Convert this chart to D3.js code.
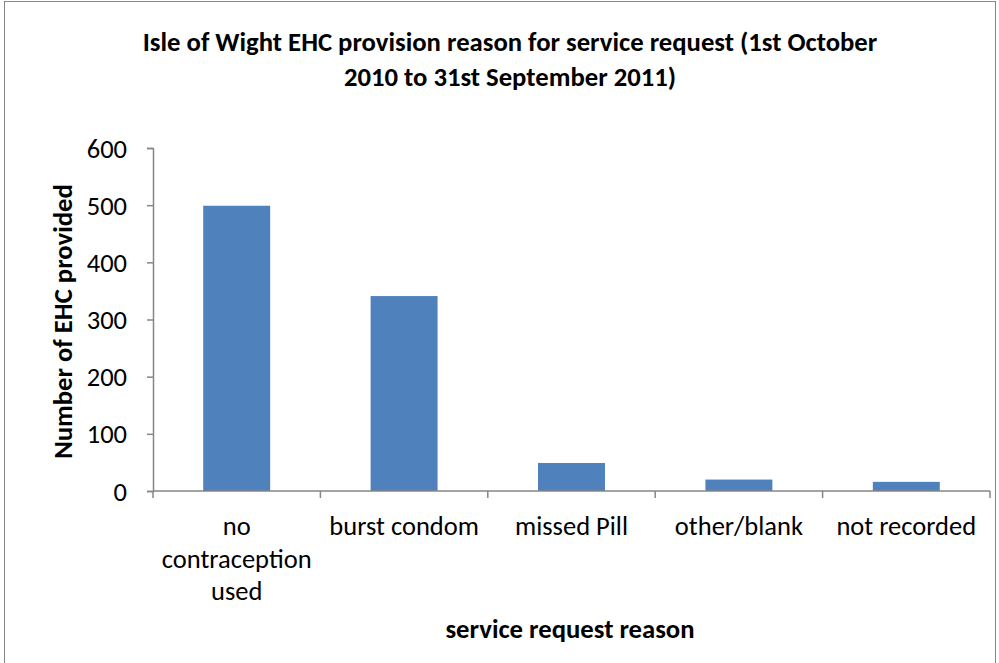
<!DOCTYPE html>
<html>
<head>
<meta charset="utf-8">
<script src="https://cdn.jsdelivr.net/npm/d3@7"></script>
<style>
  html, body { margin: 0; padding: 0; background: #fff; }
  svg { display: block; font-family: Carlito, Calibri, Lato, "Open Sans", sans-serif; }
</style>
</head>
<body>
<svg id="chart" width="999" height="663"></svg>
<script>
// Request reasons and EHC counts
const categories = [
  ["no", "contraception", "used"],
  ["burst condom"],
  ["missed Pill"],
  ["other/blank"],
  ["not recorded"]
];
const counts = [499, 341, 49, 20, 16];
const yTicks = [0, 100, 200, 300, 400, 500, 600];
const titleLines = [
  "Isle of Wight EHC provision reason for service request (1st October",
  "2010 to 31st September 2011)"
];
const yTitle = "Number of EHC provided";
const xTitle = "service request reason";

const FONT = "Carlito, Calibri, Lato, 'Open Sans', sans-serif";
const svg = d3.select("#chart");
const margin = { left: 153, right: 9, top: 148, bottom: 172 };
const W = 999, H = 663;
const axisColor = "#868686";

// chart frame
svg.append("rect")
  .attr("x", 4.5).attr("y", 1.5)
  .attr("width", 991).attr("height", 670)
  .attr("fill", "#fff").attr("stroke", axisColor).attr("stroke-width", 1);

const x = d3.scaleBand()
  .domain(d3.range(categories.length))
  .range([margin.left, W - margin.right])
  .paddingInner(0.6).paddingOuter(0.3);

const y = d3.scaleLinear()
  .domain([0, 600])
  .range([H - margin.bottom, margin.top]);

// bars
svg.append("g").selectAll("rect")
  .data(counts)
  .join("rect")
  .attr("x", (d, i) => x(i))
  .attr("width", x.bandwidth())
  .attr("y", d => y(d))
  .attr("height", d => y(0) - y(d))
  .attr("fill", "#4F81BD");

// y axis
const yAxis = svg.append("g")
  .attr("transform", `translate(${margin.left},0)`)
  .call(d3.axisLeft(y).tickValues(yTicks).tickSize(6).tickPadding(20))
  .attr("font-family", FONT)
  .attr("font-size", 26.5);
yAxis.select(".domain").attr("stroke", axisColor).attr("stroke-width", 1.5);
yAxis.selectAll(".tick line").attr("stroke", axisColor).attr("stroke-width", 1.5);
yAxis.selectAll(".tick text").attr("fill", "#000").attr("dy", "0.34em");

// x axis: ticks at category boundaries
const x0 = margin.left, x1 = W - margin.right;
const bounds = d3.range(categories.length + 1).map(i => x0 + i * (x1 - x0) / categories.length);
const xg = svg.append("g");
xg.append("line")
  .attr("x1", x0).attr("x2", x1)
  .attr("y1", y(0)).attr("y2", y(0))
  .attr("stroke", axisColor).attr("stroke-width", 1.5);
xg.selectAll("line.tk").data(bounds).join("line")
  .attr("class", "tk")
  .attr("x1", d => d).attr("x2", d => d)
  .attr("y1", y(0)).attr("y2", y(0) + 7)
  .attr("stroke", axisColor).attr("stroke-width", 1.5);

// category labels
const lbl = xg.selectAll("text.cat").data(categories).join("text")
  .attr("class", "cat")
  .attr("text-anchor", "middle")
  .attr("font-size", 26.5)
  .attr("fill", "#000")
  .attr("transform", (d, i) => `translate(${x(i) + x.bandwidth() / 2},${y(0) + 44})`);
lbl.selectAll("tspan").data(d => d).join("tspan")
  .attr("x", 0)
  .attr("dy", (d, j) => j === 0 ? 0 : 32.5)
  .text(d => d);

// titles
svg.append("text")
  .attr("text-anchor", "middle")
  .attr("font-size", 26.7).attr("font-weight", "bold")
  .selectAll("tspan").data(titleLines).join("tspan")
  .attr("x", 510)
  .attr("y", (d, i) => 51 + i * 35)
  .text(d => d);

svg.append("text")
  .attr("text-anchor", "middle")
  .attr("font-size", 26.7).attr("font-weight", "bold")
  .attr("transform", `translate(72,${(y(0) + y(600)) / 2 + 2}) rotate(-90)`)
  .text(yTitle);

svg.append("text")
  .attr("text-anchor", "middle")
  .attr("font-size", 26.7).attr("font-weight", "bold")
  .attr("x", 570).attr("y", 638)
  .text(xTitle);
</script>
</body>
</html>
